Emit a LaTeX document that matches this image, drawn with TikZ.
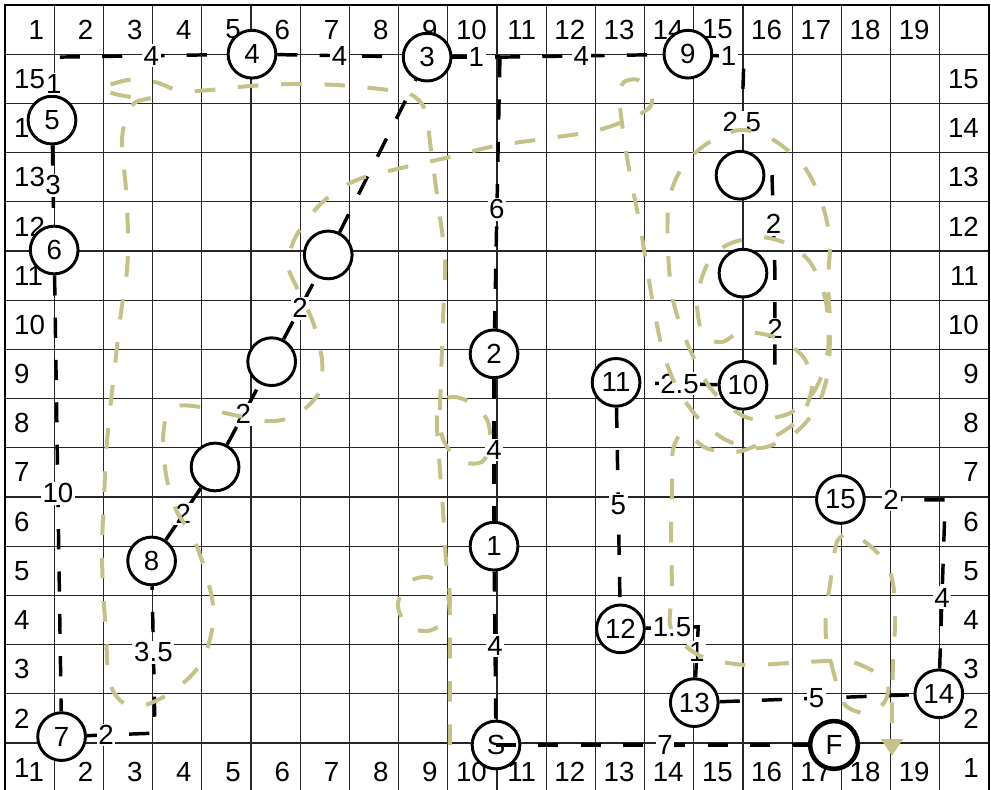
\documentclass[tikz,border=0pt]{standalone}
\usepackage{fontspec}
\setmainfont{Liberation Sans}
\usetikzlibrary{arrows.meta,calc}
\definecolor{trackkhaki}{RGB}{196,194,138}

\begin{document}
\begin{tikzpicture}[
  font=\fontsize{16}{19}\selectfont,
  gridline/.style={line width=0.8pt, black!85},
  ctrl/.style={circle, draw, line width=1.7pt, fill=white,
               minimum size=0.97cm, inner sep=0pt},
  leg/.style={line width=2pt, dash pattern=on 0.41cm off 0.45cm},
  dist/.style={fill=white, inner sep=1pt},
  track/.style={line width=2.3pt, trackkhaki,
                dash pattern=on 0.42cm off 0.46cm},
  >={Triangle[length=0.34cm,width=0.42cm]}
]
  \useasboundingbox (-0.1016,0.0447) rectangle (20.041,16.1016);

  % Grid and frame
  \draw[gridline] (0,0) grid (20,16);
  \draw[line width=1.7pt] (0,0) rectangle (20,16);

  % Grid numbers
  \foreach \n in {1,...,19} {
    \node[anchor=east, inner sep=0pt] (colt\n) at (\n-0.2,15.5) {\n};
    \node[anchor=east, inner sep=0pt] (colb\n) at (\n-0.2,0.41) {\n};
  }
  \foreach \n in {1,...,15} {
    \node[anchor=west, inner sep=0pt] (rowl\n) at (0.18,\n-0.5) {\n};
    \node[anchor=east, inner sep=0pt] (rowr\n) at (19.8,\n-0.5) {\n};
  }

  % Start, finish and controls
  \node[ctrl] (s) at (9.98,0.96) {S};
  \node[ctrl, line width=2.6pt] (f) at (16.85,0.96) {F};
  \node[ctrl] (c1) at (9.94,5.00) {1};
  \node[ctrl] (c2) at (9.94,8.91) {2};
  \node[ctrl] (c3) at (8.58,14.94) {3};
  \node[ctrl] (c4) at (5.02,15.00) {4};
  \node[ctrl] (c5) at (0.955,13.66) {5};
  \node[ctrl] (c6) at (1.00,11.02) {6};
  \node[ctrl] (c7) at (1.15,1.13) {7};
  \node[ctrl] (c8) at (2.98,4.70) {8};
  \node[ctrl] (c9) at (13.88,15.00) {9};
  \node[ctrl] (c10) at (15.00,8.27) {10};
  \node[ctrl] (c11) at (12.42,8.33) {11};
  \node[ctrl] (c12) at (12.51,3.32) {12};
  \node[ctrl] (c13) at (14.01,1.82) {13};
  \node[ctrl] (c14) at (18.98,2.00) {14};
  \node[ctrl] (c15) at (16.98,5.95) {15};

  % Unnumbered controls
  \node[ctrl] (k1) at (4.27,6.61) {};
  \node[ctrl] (k2) at (5.42,8.75) {};
  \node[ctrl] (k3) at (6.57,10.92) {};
  \node[ctrl] (k4) at (14.94,12.54) {};
  \node[ctrl] (k5) at (15.00,10.55) {};

  % Bends
  \coordinate (btl) at (1.02,14.94);
  \coordinate (bt) at (10.06,14.94);
  \coordinate (btr) at (15.02,14.94);
  \coordinate (b7) at (3.05,1.20);
  \coordinate (b12) at (14.09,3.36);
  \coordinate (b14) at (19.11,5.94);

  % Legs
  \draw[leg] (c5) -- node[dist, pos=0.29] {1} (btl)
                  -- node[dist, pos=0.56] {4} (c4);
  \draw[leg] (c4) -- node[dist] {4} (c3);
  \draw[leg] (c3) -- node[dist] {1} (bt);
  \draw[leg] (bt) -- node[dist] {4} (c9);
  \draw[leg] (c9) -- node[dist] {1} (btr)
                  -- node[dist, pos=0.7] {2.5} (k4);
  \draw[leg] (bt) -- node[dist, pos=0.56] {6} (c2);
  \draw[leg] (c2) -- node[dist] {4} (c1);
  \draw[leg] (c1) -- node[dist] {4} (s);
  \draw[leg] ([xshift=0.65cm]k4.center) -- node[dist] {2} ([xshift=0.65cm]k5.center)
             -- node[dist] {2} ([xshift=0.65cm]c10.center);
  \draw[leg] (c10) -- node[dist] {2.5} (c11);
  \draw[leg] (c11) -- node[dist] {5} (c12);
  \draw[leg] (c12) -- node[dist] {1.5} (b12) -- node[dist] {1} (c13);
  \draw[leg] (c13) -- node[dist] {5} (c14);
  \draw[leg] (c14) -- node[dist, pos=0.42] {4} (b14)
                   -- node[dist, pos=0.68] {2} (c15);
  \draw[leg] (c5) -- node[dist] {3} (c6);
  \draw[leg] (c6) -- node[dist] {10} (c7);
  \draw[leg] (c7) -- node[dist, pos=0.28] {2} (b7)
                  -- node[dist, pos=0.55] {3.5} (c8);
  \draw[leg] (c8) -- node[dist] {2} (k1);
  \draw[leg] (k1) -- node[dist] {2} (k2);
  \draw[leg] (k2) -- node[dist] {2} (k3);
  \draw[leg] (k3) -- (c3);
  \draw[leg] (s.center) -- node[dist] {7} (f.center);

  % Track (scan pixel units)
  \begin{scope}[shift={(-0.1016,16.1016)}, x=0.020325cm, y=-0.020325cm]
    \draw[track, ->]
      plot[smooth] coordinates {(450,745) (450,700) (450,650) (450,615)
        (446,590) (428,577) (407,583) (398,605) (407,626) (428,631)
        (446,620) (450,598) (446,560) (443,510) (440,470) (437,425)
        (440,402) (455,397) (475,405) (488,422) (490,445) (482,462)
        (463,462) (447,447) (440,425) (441,380) (443,320) (445,260)
        (439,210) (431,150) (425,110) (410,94) (380,89) (337,85)
        (293,84) (250,86) (210,90) (180,91) (155,82) (128,80) (100,88)}
      -- plot[smooth] coordinates {(100,88) (115,94) (138,98) (152,98)}
      -- plot[smooth] coordinates {(152,98) (136,102) (128,113) (122,140)
        (126,190) (128,235) (127,270) (120,320) (115,365) (110,410)
        (106,455) (104,500) (102,545) (103,590) (106,632) (109,680)
        (122,702) (145,705) (175,690) (200,665) (211,635) (213,605)
        (205,570) (192,535) (177,512) (167,480) (163,445) (166,418)
        (178,406) (200,407) (225,413) (265,421) (290,418) (308,406)
        (320,390) (322,360) (313,322) (297,288) (288,265) (295,238)
        (315,210) (335,192) (362,178) (410,166) (450,157) (495,146)
        (550,138) (595,131) (630,119) (650,107) (651,94) (638,80)
        (624,82) (619,95) (621,115) (625,145) (632,185) (640,225)
        (647,268) (655,315) (664,355) (678,390) (700,420) (728,441)
        (762,448) (795,433) (817,407) (828,372) (830,325) (828,280)
        (830,240) (821,200) (803,165) (772,139) (740,130) (708,143)
        (683,166) (669,200) (668,250) (673,300) (688,345) (712,390)
        (748,418) (788,414) (815,390) (828,350) (826,302) (812,265)
        (790,245) (760,237) (727,245) (707,265) (697,300) (703,335)
        (722,342) (742,332) (778,338) (804,358) (812,387) (800,418)
        (772,438) (737,452) (706,448) (684,432) (673,450) (672,490)
        (671,540) (672,590) (670,625) (682,643) (705,658) (745,665)
        (790,663) (828,661) (852,662) (873,671) (888,684) (884,703)
        (865,713) (846,706) (838,688) (831,662) (826,637) (826,610)
        (830,585) (834,555) (838,540) (850,533) (869,545) (887,564)
        (894,590) (895,625) (893,665) (892,705) (892,722)}
      -- (892,756);
  \end{scope}
\end{tikzpicture}
\end{document}
